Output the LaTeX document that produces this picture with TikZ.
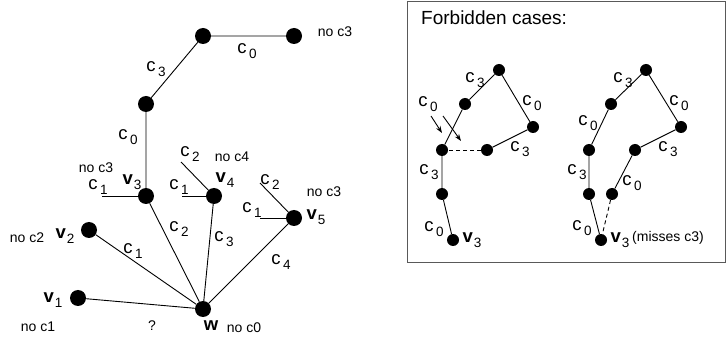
\documentclass[tikz,border=0pt]{standalone}
\usepackage{fontspec}
\setmainfont{Liberation Sans}
\usetikzlibrary{arrows.meta}
\newcommand{\cl}[1]{c\hspace{2.5pt}\raisebox{-5pt}{\fontsize{13.5}{13.5}\selectfont #1}}
\newcommand{\vl}[2]{\textbf{#1}\hspace{1pt}\raisebox{-5pt}{\fontsize{13.5}{13.5}\selectfont #2}}
\begin{document}
\begin{tikzpicture}[x=1pt,y=-1pt,
  big/.style={circle,fill=black,minimum size=16pt,inner sep=0pt},
  small/.style={circle,fill=black,minimum size=12pt,inner sep=0pt},
  lbl/.style={inner sep=0pt,font=\fontsize{18.5}{18.5}\selectfont},
  note/.style={inner sep=0pt,font=\fontsize{14}{14}\selectfont},
  edge/.style={line width=0.9pt},
  arr/.style={line width=0.9pt,-{Stealth[length=7pt,width=5pt]}}]
\useasboundingbox (0,0) rectangle (726,339);
% left diagram
\node[big] (a) at (203,36) {};
\node[big] (b) at (294,36) {};
\node[big] (c) at (146,104) {};
\node[big] (v3) at (146,196) {};
\node[big] (v4) at (214,196) {};
\node[big] (v5) at (294,218) {};
\node[big] (v2) at (89,230) {};
\node[big] (v1) at (78,298) {};
\node[big] (w) at (203,309) {};
\coordinate (s3) at (102,196);
\coordinate (s4a) at (182,196);
\coordinate (s4b) at (181,162);
\coordinate (s5a) at (260,218);
\coordinate (s5b) at (260,183);
\draw[edge] (b) -- (a) -- (c) -- (v3);
\draw[edge] (s3) -- (v3);
\draw[edge] (s4a) -- (v4);
\draw[edge] (s4b) -- (v4);
\draw[edge] (s5a) -- (v5);
\draw[edge] (s5b) -- (v5);
\draw[edge] (v1) -- (w);
\draw[edge] (v2) -- (w);
\draw[edge] (v3) -- (w);
\draw[edge] (v4) -- (w);
\draw[edge] (v5) -- (w);
\node[lbl] (l1) at (247,51) {\cl{0}};
\node[lbl] (l2) at (156,69) {\cl{3}};
\node[lbl] (l3) at (128,137) {\cl{0}};
\node[lbl] (l4) at (190,154) {\cl{2}};
\node[note] (n1) at (335,32) {no c3};
\node[note] (n2) at (232,157) {no c4};
\node[note] (n3) at (96,168) {no c3};
\node[lbl] (l5) at (98,187) {\cl{1}};
\node[lbl] (t3) at (132,182) {\vl{v}{3}};
\node[lbl] (l6) at (179,187) {\cl{1}};
\node[lbl] (t4) at (225,180) {\vl{v}{4}};
\node[lbl] (l7) at (270,182) {\cl{2}};
\node[note] (n4) at (324,192) {no c3};
\node[lbl] (l8) at (252,210) {\cl{1}};
\node[lbl] (t5) at (316,217) {\vl{v}{5}};
\node[note] (n5) at (27,238) {no c2};
\node[lbl] (t2) at (65,236) {\vl{v}{2}};
\node[lbl] (l9) at (133,251) {\cl{1}};
\node[lbl] (l10) at (179,229) {\cl{2}};
\node[lbl] (l11) at (224,239) {\cl{3}};
\node[lbl] (l12) at (281,262) {\cl{4}};
\node[lbl] (t1) at (53,300) {\vl{v}{1}};
\node[note] (n6) at (38,327) {no c1};
\node[note] (q) at (152,326) {?};
\node[lbl] (tw) at (211,326) {\textbf{w}};
\node[note] (n7) at (244,328) {no c0};
% right box
\draw[line width=1pt,draw=black!65] (407.5,2) rectangle (725.5,263);
\node[lbl,anchor=west,font=\fontsize{19}{19}\selectfont] (fc) at (421,18) {Forbidden cases:};
% left forbidden case
\node[small] (p1) at (499,70) {};
\node[small] (p2) at (465,104) {};
\node[small] (p3) at (533,127) {};
\node[small] (p4) at (442,150) {};
\node[small] (p5) at (487,150) {};
\node[small] (p6) at (442,194) {};
\node[small] (p7) at (453,240) {};
\draw[edge] (p4) -- (p2) -- (p1) -- (p3) -- (p5);
\draw[edge,dashed,dash pattern=on 4pt off 3pt] (p5) -- (p4);
\draw[edge] (p4) -- (p6) -- (p7);
\coordinate (a1s) at (431,116);
\coordinate (a1e) at (442,133);
\coordinate (a2s) at (443,116);
\coordinate (a2e) at (461,141);
\draw[arr] (a1s) -- (a1e);
\draw[arr] (a2s) -- (a2e);
\node[lbl] (r1) at (475,80) {\cl{3}};
\node[lbl] (r2) at (532,103) {\cl{0}};
\node[lbl] (r3) at (428,104) {\cl{0}};
\node[lbl] (r4) at (520,149) {\cl{3}};
\node[lbl] (r5) at (429,172) {\cl{3}};
\node[lbl] (r6) at (434,229) {\cl{0}};
\node[lbl] (r7) at (472,240) {\vl{v}{3}};
% right forbidden case
\node[small] (m1) at (646,70) {};
\node[small] (m2) at (611,104) {};
\node[small] (m3) at (681,127) {};
\node[small] (m4) at (589,150) {};
\node[small] (m5) at (635,150) {};
\node[small] (m6) at (589,194) {};
\node[small] (m7) at (612,194) {};
\node[small] (m8) at (601,240) {};
\draw[edge] (m6) -- (m4) -- (m2) -- (m1) -- (m3) -- (m5) -- (m7);
\draw[edge] (m6) -- (m8);
\draw[edge,dashed,dash pattern=on 4pt off 3pt] (m7) -- (m8);
\node[lbl] (q1) at (623,80) {\cl{3}};
\node[lbl] (q2) at (679,103) {\cl{0}};
\node[lbl] (q3) at (588,123) {\cl{0}};
\node[lbl] (q4) at (668,149) {\cl{3}};
\node[lbl] (q5) at (577,172) {\cl{3}};
\node[lbl] (q6) at (632,183) {\cl{0}};
\node[lbl] (q7) at (582,228) {\cl{0}};
\node[lbl] (q8) at (620,240) {\vl{v}{3}};
\node[note,anchor=west] (q9) at (632,238) {(misses c3)};
\end{tikzpicture}
\end{document}
